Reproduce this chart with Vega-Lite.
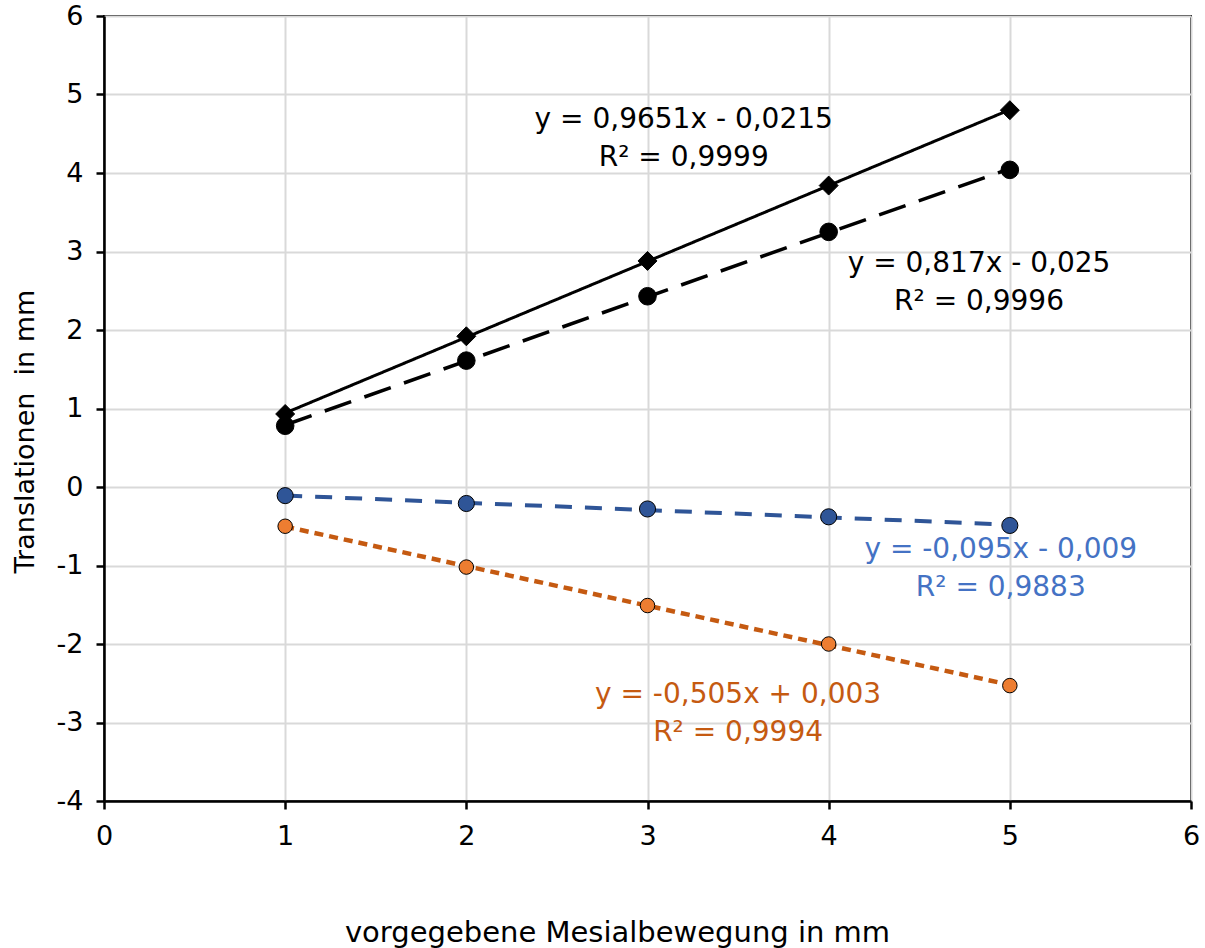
{
  "$schema": "https://vega.github.io/schema/vega-lite/v6.json",
  "width": 1087,
  "height": 785,
  "autosize": {"type": "none"},
  "padding": {"left": 104, "top": 16, "right": 14, "bottom": 147},
  "background": "white",
  "config": {
    "view": {"stroke": "black", "strokeWidth": 2},
    "font": "DejaVu Sans",
    "axis": {
      "labelFont": "DejaVu Sans",
      "labelFontSize": 27,
      "labelColor": "black",
      "titleFont": "DejaVu Sans",
      "titleFontWeight": "normal",
      "titleColor": "black",
      "domainColor": "black",
      "domainWidth": 2.5,
      "tickColor": "black",
      "tickWidth": 2.5,
      "tickSize": 8,
      "gridColor": "#d9d9d9",
      "gridWidth": 2
    }
  },
  "datasets": {
    "messwerte": [
      {"x": 1, "y": 0.93, "serie": "A"},
      {"x": 2, "y": 1.92, "serie": "A"},
      {"x": 3, "y": 2.88, "serie": "A"},
      {"x": 4, "y": 3.84, "serie": "A"},
      {"x": 5, "y": 4.80, "serie": "A"},
      {"x": 1, "y": 0.78, "serie": "B"},
      {"x": 2, "y": 1.61, "serie": "B"},
      {"x": 3, "y": 2.43, "serie": "B"},
      {"x": 4, "y": 3.25, "serie": "B"},
      {"x": 5, "y": 4.04, "serie": "B"},
      {"x": 1, "y": -0.11, "serie": "C"},
      {"x": 2, "y": -0.21, "serie": "C"},
      {"x": 3, "y": -0.28, "serie": "C"},
      {"x": 4, "y": -0.38, "serie": "C"},
      {"x": 5, "y": -0.49, "serie": "C"},
      {"x": 1, "y": -0.50, "serie": "D"},
      {"x": 2, "y": -1.02, "serie": "D"},
      {"x": 3, "y": -1.51, "serie": "D"},
      {"x": 4, "y": -2.00, "serie": "D"},
      {"x": 5, "y": -2.53, "serie": "D"}
    ],
    "gleichungen": [
      {"x": 3.2, "y": 4.67, "text": "y = 0,9651x - 0,0215", "serie": "A"},
      {"x": 3.2, "y": 4.19, "text": "R² = 0,9999", "serie": "A"},
      {"x": 4.83, "y": 2.84, "text": "y = 0,817x - 0,025", "serie": "B"},
      {"x": 4.83, "y": 2.36, "text": "R² = 0,9996", "serie": "B"},
      {"x": 4.95, "y": -0.80, "text": "y = -0,095x - 0,009", "serie": "C"},
      {"x": 4.95, "y": -1.29, "text": "R² = 0,9883", "serie": "C"},
      {"x": 3.5, "y": -2.65, "text": "y = -0,505x + 0,003", "serie": "D"},
      {"x": 3.5, "y": -3.13, "text": "R² = 0,9994", "serie": "D"}
    ]
  },
  "encoding": {
    "x": {
      "field": "x",
      "type": "quantitative",
      "scale": {"domain": [0, 6], "nice": false, "zero": false},
      "axis": {
        "values": [0, 1, 2, 3, 4, 5, 6],
        "labelExpr": "'' + datum.value",
        "title": "vorgegebene Mesialbewegung in mm",
        "titleFontSize": 29,
        "titleX": 513,
        "titleY": 131,
        "titleAlign": "center",
        "titleBaseline": "middle",
        "labelPadding": 14,
        "labelFlush": false
      }
    },
    "y": {
      "field": "y",
      "type": "quantitative",
      "scale": {"domain": [-4, 6], "nice": false, "zero": false},
      "axis": {
        "values": [-4, -3, -2, -1, 0, 1, 2, 3, 4, 5, 6],
        "labelExpr": "'' + datum.value",
        "title": "Translationen\u00a0 in mm",
        "titleFontSize": 27,
        "titleX": -79,
        "titleY": 415,
        "titleAngle": -90,
        "titleAlign": "center",
        "titleBaseline": "middle",
        "labelPadding": 13,
        "labelFlush": false
      }
    }
  },
  "layer": [
    {
      "mark": {"type": "rule", "color": "black", "strokeWidth": 2.5},
      "encoding": {"x": {"datum": 0}, "x2": {"datum": 6}, "y": {"datum": 0}}
    },
    {
      "data": {"name": "messwerte"},
      "transform": [
        {"regression": "y", "on": "x", "groupby": ["serie"], "extent": [1, 5]}
      ],
      "mark": {"type": "line", "strokeCap": "butt"},
      "encoding": {
        "color": {
          "field": "serie", "type": "nominal", "legend": null,
          "scale": {"domain": ["A", "B", "C", "D"], "range": ["#000000", "#000000", "#2F5597", "#C55A11"]}
        },
        "strokeDash": {
          "field": "serie", "type": "nominal", "legend": null,
          "scale": {"domain": ["A", "B", "C", "D"], "range": [[1, 0], [28, 14], [17, 13], [9, 6]]}
        },
        "strokeWidth": {
          "field": "serie", "type": "nominal", "legend": null,
          "scale": {"domain": ["A", "B", "C", "D"], "range": [3, 4.5, 4, 4]}
        }
      }
    },
    {
      "data": {"name": "messwerte"},
      "mark": {"type": "point", "filled": true, "opacity": 1, "stroke": "black", "strokeWidth": 1},
      "encoding": {
        "shape": {
          "field": "serie", "type": "nominal", "legend": null,
          "scale": {"domain": ["A", "B", "C", "D"], "range": ["diamond", "circle", "circle", "circle"]}
        },
        "fill": {
          "field": "serie", "type": "nominal", "legend": null,
          "scale": {"domain": ["A", "B", "C", "D"], "range": ["#000000", "#000000", "#2F5597", "#ED7D31"]}
        },
        "size": {
          "field": "serie", "type": "nominal", "legend": null,
          "scale": {"domain": ["A", "B", "C", "D"], "range": [360, 210, 180, 180]}
        }
      }
    },
    {
      "data": {"name": "gleichungen"},
      "mark": {"type": "text", "font": "DejaVu Sans", "fontSize": 28, "align": "center", "baseline": "middle"},
      "encoding": {
        "text": {"field": "text", "type": "nominal"},
        "color": {
          "field": "serie", "type": "nominal", "legend": null,
          "scale": {"domain": ["A", "B", "C", "D"], "range": ["#000000", "#000000", "#4472C4", "#C55A11"]}
        }
      }
    }
  ],
  "resolve": {"scale": {"color": "independent"}}
}
